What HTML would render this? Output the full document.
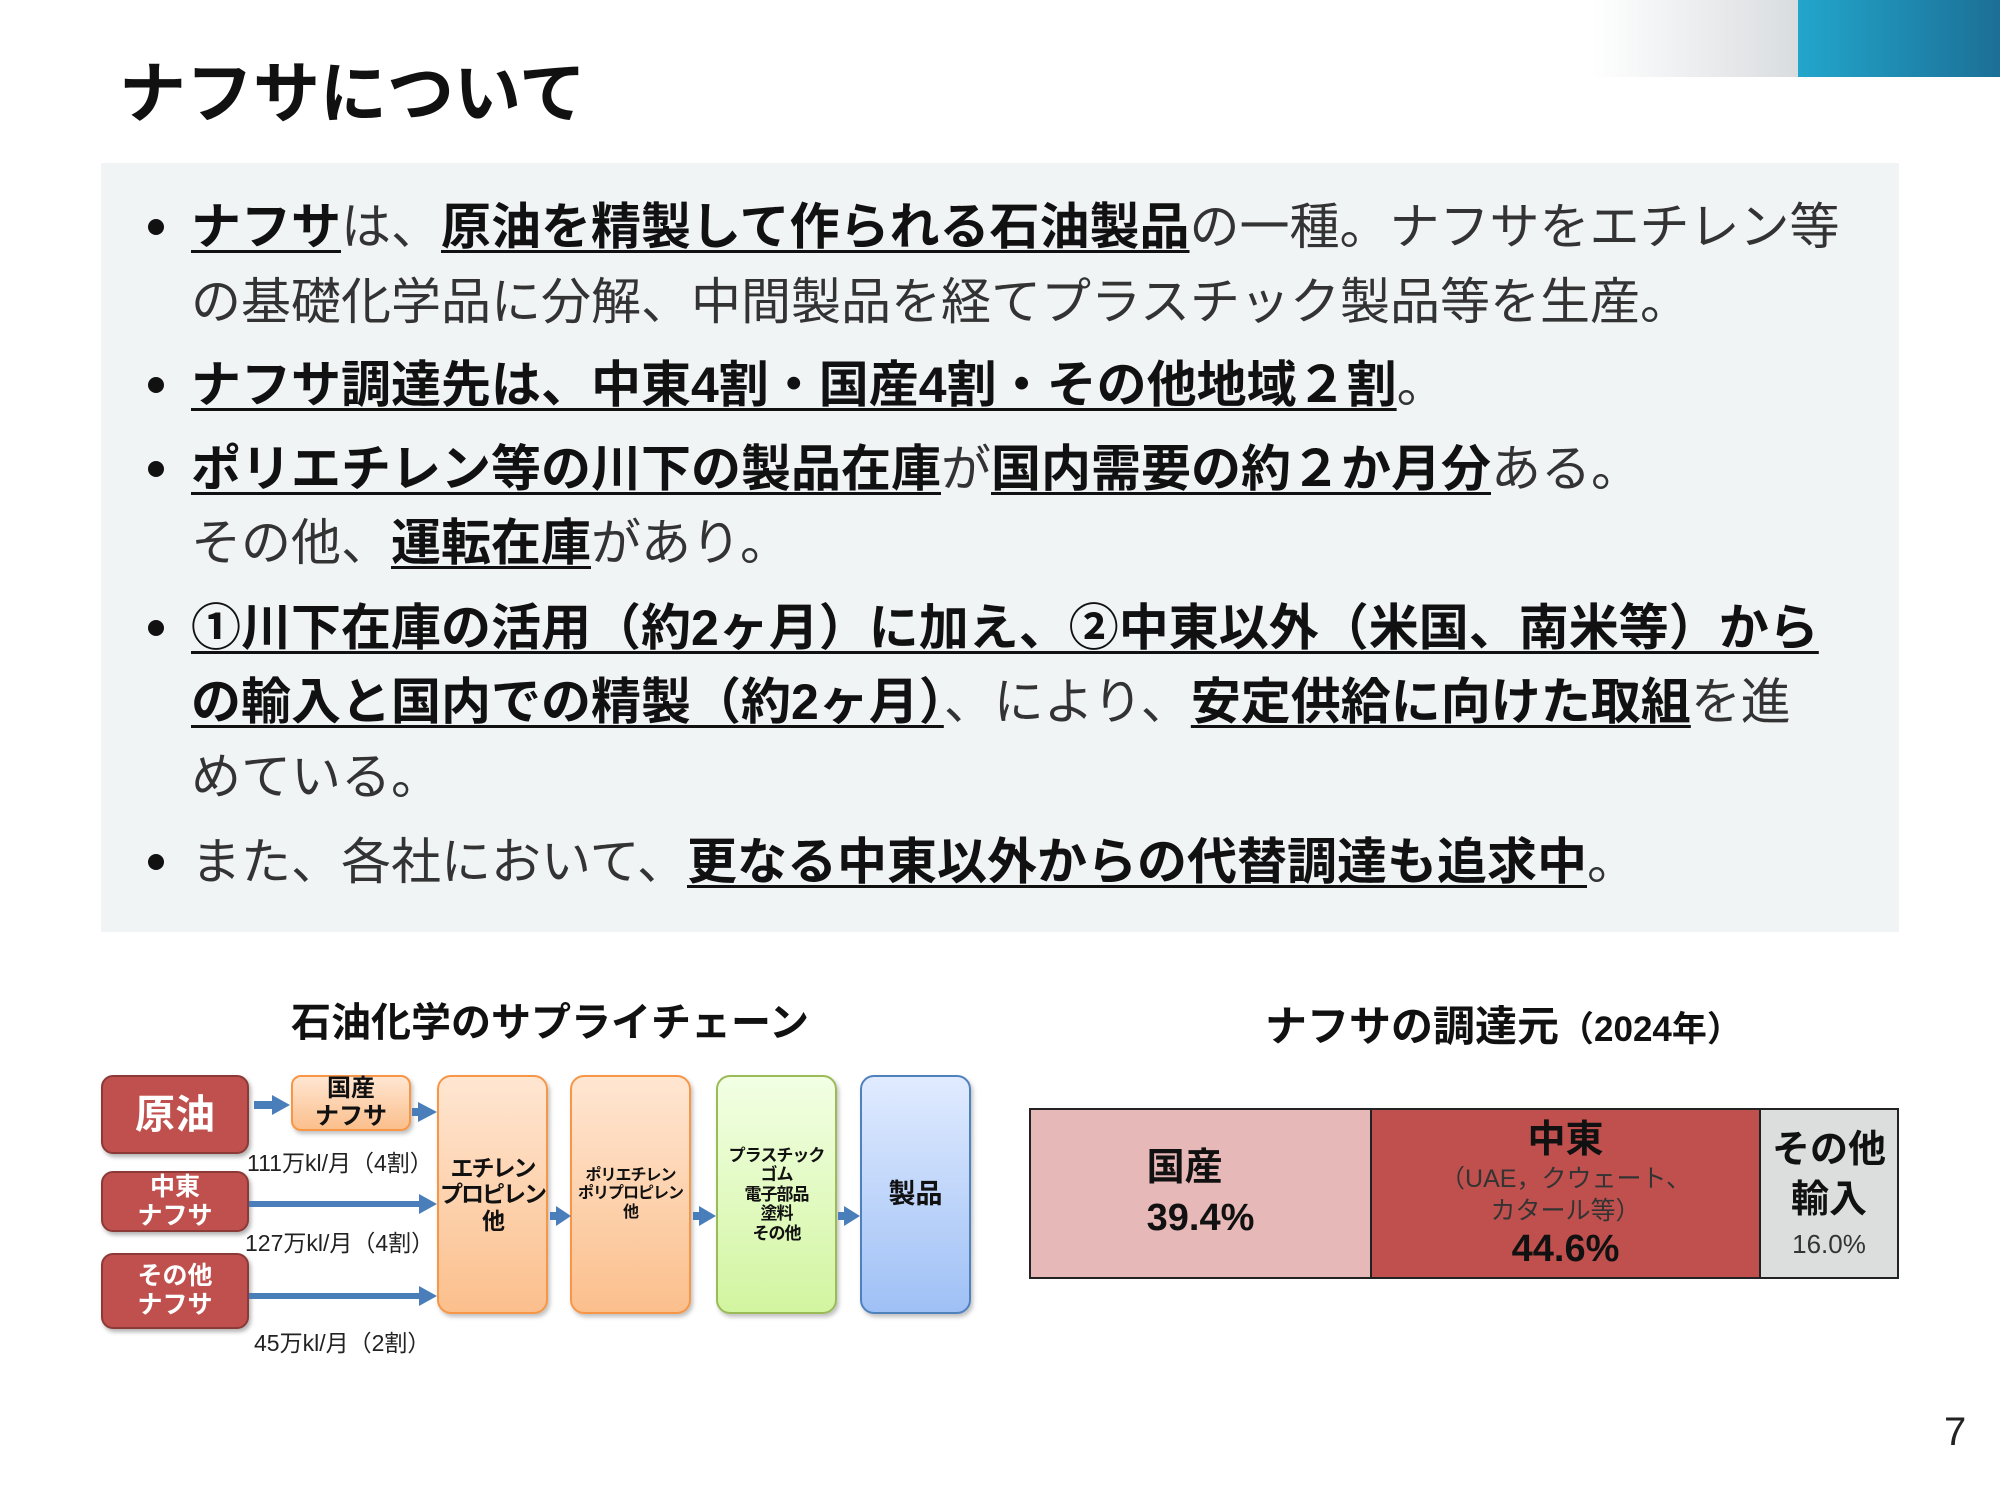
<!DOCTYPE html>
<html><head><meta charset="utf-8"><style>
*{margin:0;padding:0;box-sizing:border-box}
body{width:2000px;height:1500px;position:relative;background:#fff;font-family:"Liberation Sans","Noto Sans CJK JP",sans-serif;color:#222;overflow:hidden}
.a{position:absolute;white-space:nowrap}
.ln{position:absolute;left:191px;font-size:50px;line-height:60px;white-space:nowrap;color:#333}
.ln b{font-weight:700;color:#111;text-decoration:underline;text-decoration-thickness:3px;text-underline-offset:6px}
.dot{position:absolute;left:148px;width:16px;height:16px;border-radius:50%;background:#111}
.box{position:absolute;display:flex;align-items:center;justify-content:center;text-align:center;font-weight:700;line-height:1.15;white-space:nowrap}
.red{background:#c0504d;border:2px solid #8c3a38;border-radius:12px;color:#fff;box-shadow:2px 3px 4px rgba(0,0,0,.3)}
.or{background:linear-gradient(#ffe6d2,#fbbf8c);border:2px solid #f79646;border-radius:14px;color:#111;box-shadow:2px 3px 4px rgba(0,0,0,.25)}
.gr{background:linear-gradient(#f2ffe4,#d2f5a0);border:2px solid #9bbb59;border-radius:14px;color:#111;box-shadow:2px 3px 4px rgba(0,0,0,.25)}
.bl{background:linear-gradient(#e0ebff,#9fc0f5);border:2px solid #4f81bd;border-radius:14px;color:#111;box-shadow:2px 3px 4px rgba(0,0,0,.25)}
.lbl{position:absolute;font-size:23px;color:#222;white-space:nowrap}
</style></head><body>
<div class="a" style="left:1592px;top:0;width:208px;height:77px;background:linear-gradient(90deg,#fff,#d9dcdf)"></div>
<div class="a" style="left:1798px;top:0;width:202px;height:77px;background:linear-gradient(90deg,#22a6cc,#1c6f96)"></div>
<div class="a" style="left:119px;top:50px;font-size:67px;font-weight:700;color:#111;line-height:90px">ナフサについて</div>

<div class="a" style="left:101px;top:163px;width:1798px;height:769px;background:#f1f4f5"></div>

<div class="dot" style="top:219px"></div>
<div class="ln" style="top:197px"><b>ナフサ</b>は、<b>原油を精製して作られる石油製品</b>の一種。ナフサをエチレン等</div>
<div class="ln" style="top:272px">の基礎化学品に分解、中間製品を経てプラスチック製品等を生産。</div>
<div class="dot" style="top:377px"></div>
<div class="ln" style="top:355px"><b>ナフサ調達先は、中東4割・国産4割・その他地域２割</b>。</div>
<div class="dot" style="top:461px"></div>
<div class="ln" style="top:439px"><b>ポリエチレン等の川下の製品在庫</b>が<b>国内需要の約２か月分</b>ある。</div>
<div class="ln" style="top:513px">その他、<b>運転在庫</b>があり。</div>
<div class="dot" style="top:620px"></div>
<div class="ln" style="top:598px"><b>①川下在庫の活用（約2ヶ月）に加え、②中東以外（米国、南米等）から</b></div>
<div class="ln" style="top:672px"><b>の輸入と国内での精製（約2ヶ月）</b>、により、<b>安定供給に向けた取組</b>を進</div>
<div class="ln" style="top:747px">めている。</div>
<div class="dot" style="top:854px"></div>
<div class="ln" style="top:832px">また、各社において、<b>更なる中東以外からの代替調達も追求中</b>。</div>

<div class="a" style="left:291px;top:990px;font-size:40px;font-weight:700;color:#111">石油化学のサプライチェーン</div>

<div class="box red" style="left:101px;top:1075px;width:148px;height:79px;font-size:40px">原油</div>
<div class="box red" style="left:101px;top:1171px;width:148px;height:61px;font-size:25px">中東<br>ナフサ</div>
<div class="box red" style="left:101px;top:1253px;width:148px;height:76px;font-size:25px">その他<br>ナフサ</div>
<div class="box or" style="left:291px;top:1075px;width:120px;height:56px;font-size:24px;border-radius:10px">国産<br>ナフサ</div>
<div class="box or" style="left:437px;top:1075px;width:111px;height:239px;font-size:23px;letter-spacing:-2px">エチレン<br>プロピレン<br>他</div>
<div class="box or" style="left:570px;top:1075px;width:121px;height:239px;font-size:16px;letter-spacing:-1px">ポリエチレン<br>ポリプロピレン<br>他</div>
<div class="box gr" style="left:716px;top:1075px;width:121px;height:239px;font-size:17px;letter-spacing:-1px">プラスチック<br>ゴム<br>電子部品<br>塗料<br>その他</div>
<div class="box bl" style="left:860px;top:1075px;width:111px;height:239px;font-size:27px">製品</div>

<svg class="a" style="left:0;top:0" width="2000" height="1500">
<g fill="#4a7ebb">
<rect x="254" y="1101" width="20" height="8"/><polygon points="272,1095 290,1105 272,1115"/>
<rect x="412" y="1108" width="8" height="8"/><polygon points="418,1102 437,1112 418,1122"/>
<rect x="249" y="1201" width="172" height="6"/><polygon points="419,1194 437,1204 419,1214"/>
<rect x="249" y="1293" width="172" height="6"/><polygon points="419,1286 437,1296 419,1306"/>
<rect x="550" y="1212" width="8" height="8"/><polygon points="556,1206 571,1216 556,1226"/>
<rect x="693" y="1212" width="8" height="8"/><polygon points="699,1206 716,1216 699,1226"/>
<rect x="838" y="1212" width="8" height="8"/><polygon points="844,1206 860,1216 844,1226"/>
</g></svg>
<div class="lbl" style="left:247px;top:1144px">111万kl/月（4割）</div>
<div class="lbl" style="left:245px;top:1224px">127万kl/月（4割）</div>
<div class="lbl" style="left:254px;top:1324px">45万kl/月（2割）</div>

<div class="a" style="left:1265px;top:993px;font-size:42px;font-weight:700;color:#111">ナフサの調達元<span style="font-size:35px">（2024年）</span></div>
<div class="a" style="left:1029px;top:1108px;width:870px;height:171px;border:2px solid #222;display:flex">
 <div style="width:341px;background:#e6b8b7;border-right:2px solid #222;display:flex;flex-direction:column;align-items:center;justify-content:center;font-weight:700;font-size:38px;line-height:1.3;color:#111">国産<br>39.4%</div>
 <div style="width:389px;background:#c0504d;border-right:2px solid #222;display:flex;flex-direction:column;align-items:center;justify-content:center;color:#111;text-align:center"><div style="font-weight:700;font-size:38px;line-height:46px">中東</div><div style="font-size:25px;line-height:32px;color:#333">（UAE，クウェート、<br>カタール等）</div><div style="font-weight:700;font-size:38px;line-height:44px">44.6%</div></div>
 <div style="flex:1;background:#dcdedd;display:flex;flex-direction:column;align-items:center;justify-content:center;text-align:center;color:#111"><div style="font-weight:700;font-size:38px;line-height:50px">その他<br>輸入</div><div style="font-size:26px;line-height:38px;color:#333">16.0%</div></div>
</div>

<div class="a" style="left:1944px;top:1410px;font-size:40px;color:#222">7</div>
</body></html>
